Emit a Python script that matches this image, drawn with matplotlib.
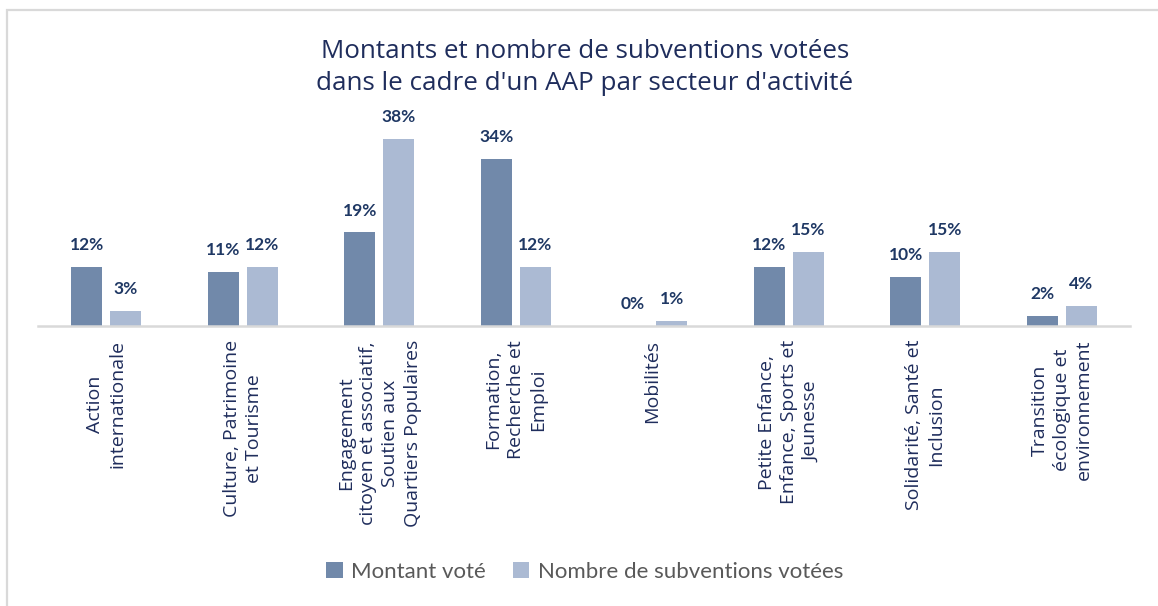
import numpy as np
import matplotlib.pyplot as plt
from matplotlib.patches import Rectangle

secteurs = ['Action\ninternationale', 'Culture, Patrimoine\net Tourisme',
            'Engagement\ncitoyen et associatif,\nSoutien aux\nQuartiers Populaires',
            'Formation,\nRecherche et\nEmploi', 'Mobilités',
            'Petite Enfance,\nEnfance, Sports et\nJeunesse',
            'Solidarité, Santé et\nInclusion',
            'Transition\nécologique et\nenvironnement']
montant = [12, 11, 19, 34, 0, 12, 10, 2]
nombre = [3, 12, 38, 12, 1, 15, 15, 4]

c_dark = '#7189AA'
c_light = '#ABBAD3'
navy = '#1F2D5C'

fig = plt.figure(figsize=(11.58, 6.06), dpi=100)
ax = fig.add_axes([0.0328, 0.462, 0.943, 0.325])

x = np.arange(len(secteurs))
w = 0.227
off = 0.143
b1 = ax.bar(x - off, montant, w, color=c_dark, label='Montant voté')
b2 = ax.bar(x + off, nombre, w, color=c_light, label='Nombre de subventions votées')

for bars, vals in [(b1, montant), (b2, nombre)]:
    for b, v in zip(bars, vals):
        ax.annotate(f'{v}%', (b.get_x() + b.get_width() / 2, v), xytext=(0, 10),
                    textcoords='offset points', ha='center', va='bottom',
                    fontsize=12.5, fontweight='bold', color='#1F3864', family='Lato')

ax.set_xlim(-0.5, 7.5)
ax.set_ylim(0, 40)
ax.set_yticks([])
for s in ['top', 'right', 'left']:
    ax.spines[s].set_visible(False)
ax.spines['bottom'].set_color('#D9D9D9')
ax.spines['bottom'].set_linewidth(1.8)
ax.set_xticks(x)
ax.set_xticklabels(secteurs, rotation=90, ha='center', va='top', multialignment='center',
                   fontsize=14, color=navy, family='Open Sans', linespacing=1.3)
ax.tick_params(axis='x', length=0, pad=10)

fig.text(0.505, 0.889, "Montants et nombre de subventions votées\ndans le cadre d'un AAP par secteur d'activité",
         ha='center', va='center', fontsize=18.7, color=navy, family='Open Sans', linespacing=1.35)

fig.legend(handles=[b1, b2], loc='center', bbox_to_anchor=(0.505, 1 - 572 / 606), ncol=2,
           frameon=False, handlelength=0.75, handleheight=0.75, handletextpad=0.4,
           columnspacing=1.2, prop={'family': 'Lato', 'size': 16}, labelcolor='#595959')

fig.patches.append(Rectangle((6.5 / 1158, -0.5), 2, 0.5 + 1 - 9.5 / 606, transform=fig.transFigure,
                             fill=False, ec='#D9D9D9', lw=1.6))

fig.savefig('out.png', dpi=100)
